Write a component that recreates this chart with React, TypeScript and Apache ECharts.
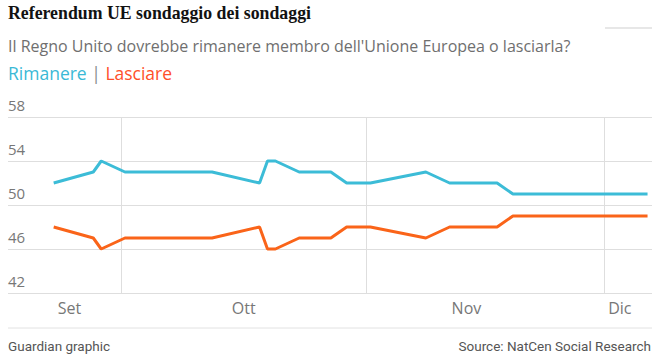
import React, { useEffect, useRef } from 'react';
import * as echarts from 'echarts';

// Poll dates (each plotted at midday)
const pollDates = [
  '2018-09-22', '2018-09-27', '2018-09-28', '2018-10-01', '2018-10-12',
  '2018-10-18', '2018-10-19', '2018-10-20', '2018-10-23', '2018-10-27',
  '2018-10-29', '2018-11-01', '2018-11-08', '2018-11-11', '2018-11-17',
  '2018-11-19', '2018-12-06',
];
const remainValues = [52, 53, 54, 53, 53, 52, 54, 54, 53, 53, 52, 52, 53, 52, 52, 51, 51];
const leaveValues = [48, 47, 46, 47, 47, 48, 46, 46, 47, 47, 48, 48, 47, 48, 48, 49, 49];

// Axis definitions
const yTicks = [42, 46, 50, 54, 58];
const monthStarts = ['2018-10-01T00:00', '2018-11-01T00:00', '2018-12-01T00:00'];
const monthLabels = ['Set', 'Ott', 'Nov', 'Dic'];
const monthLabelDates = ['2018-09-24T12:00', '2018-10-16T12:00', '2018-11-13T15:00', '2018-12-03T00:00'];
const xStart = '2018-09-16T17:30';
const xEnd = '2018-12-07T01:30';

const toTs = (s: string) => new Date((s.length === 10 ? s + 'T12:00' : s) + ':00Z').getTime();

const BLUE = '#3cbcd7';
const ORANGE = '#fa6419';
const GRID = '#dedede';
const SANS = '"Open Sans", "Noto Sans", sans-serif';

export default function App() {
  const ref = useRef<HTMLDivElement>(null);
  useEffect(() => {
    document.body.style.margin = '0';
    if (!ref.current) return;
    const chart = echarts.init(ref.current, undefined, { renderer: 'svg' });
    const labelTs = monthLabelDates.map(toTs);
    chart.setOption({
      animation: false,
      backgroundColor: '#ffffff',
      grid: { left: 8, right: 10, top: 117, bottom: 69 },
      xAxis: {
        type: 'value',
        min: toTs(xStart),
        max: toTs(xEnd),
        axisLine: { show: false },
        axisTick: { show: false, customValues: monthStarts.map(toTs) },
        splitLine: { show: true, lineStyle: { color: GRID, width: 1 } },
        axisLabel: {
          customValues: labelTs,
          color: '#777777',
          fontSize: 16,
          fontFamily: SANS,
          margin: 7,
          formatter: (v: number) => {
            let best = 0;
            labelTs.forEach((t, i) => {
              if (Math.abs(t - v) < Math.abs(labelTs[best] - v)) best = i;
            });
            return monthLabels[best];
          },
        },
      },
      yAxis: {
        type: 'value',
        min: yTicks[0],
        max: yTicks[yTicks.length - 1],
        axisLine: { show: false },
        axisTick: { show: false, customValues: yTicks },
        splitLine: { show: true, lineStyle: { color: GRID, width: 1 } },
        axisLabel: {
          customValues: yTicks,
          inside: true,
          margin: 0,
          verticalAlign: 'bottom',
          lineHeight: 18,
          padding: [0, 0, 3, 0],
          color: '#777777',
          fontSize: 15,
          fontFamily: SANS,
        },
      },
      series: [
        {
          name: 'Rimanere',
          type: 'line',
          data: pollDates.map((d, i) => [toTs(d), remainValues[i]]),
          showSymbol: false,
          lineStyle: { color: BLUE, width: 3 },
          itemStyle: { color: BLUE },
        },
        {
          name: 'Lasciare',
          type: 'line',
          data: pollDates.map((d, i) => [toTs(d), leaveValues[i]]),
          showSymbol: false,
          lineStyle: { color: ORANGE, width: 3 },
          itemStyle: { color: ORANGE },
        },
      ],
      graphic: [
        {
          type: 'text',
          x: 8,
          y: 13,
          style: {
            text: 'Referendum UE sondaggio dei sondaggi',
            font: 'bold 17.8px "Liberation Serif", serif',
            fill: '#121212',
            textVerticalAlign: 'middle',
          },
        },
        {
          type: 'line',
          shape: { x1: 605, y1: 28, x2: 652, y2: 28 },
          style: { stroke: '#cfcfcf', lineWidth: 1 },
        },
        {
          type: 'text',
          x: 8,
          y: 46,
          style: {
            text: "Il Regno Unito dovrebbe rimanere membro dell'Unione Europea o lasciarla?",
            font: '16px ' + SANS,
            fill: '#6f6f6f',
            textVerticalAlign: 'middle',
          },
        },
        {
          type: 'text',
          x: 8,
          y: 73,
          style: {
            text: '{a|Rimanere} {s||} {b|Lasciare}',
            font: '17.5px ' + SANS,
            textVerticalAlign: 'middle',
            rich: {
              a: { fill: '#3ab9d6', font: '17.5px ' + SANS },
              s: { fill: '#8a8a8a', font: '17.5px ' + SANS },
              b: { fill: '#ff4f2a', font: '17.5px ' + SANS },
            },
          },
        },
        {
          type: 'line',
          shape: { x1: 8, y1: 328, x2: 652, y2: 328 },
          style: { stroke: '#e2e2e2', lineWidth: 1 },
        },
        {
          type: 'text',
          x: 8,
          y: 346,
          style: {
            text: 'Guardian graphic',
            font: '13.5px Roboto, sans-serif',
            fill: '#555555',
            textVerticalAlign: 'middle',
          },
        },
        {
          type: 'text',
          x: 651,
          y: 346,
          style: {
            text: 'Source: NatCen Social Research',
            font: '13.5px Roboto, sans-serif',
            fill: '#555555',
            textAlign: 'right',
            textVerticalAlign: 'middle',
          },
        },
      ],
    });
    return () => chart.dispose();
  }, []);
  return <div ref={ref} style={{ width: 662, height: 362 }} />;
}
